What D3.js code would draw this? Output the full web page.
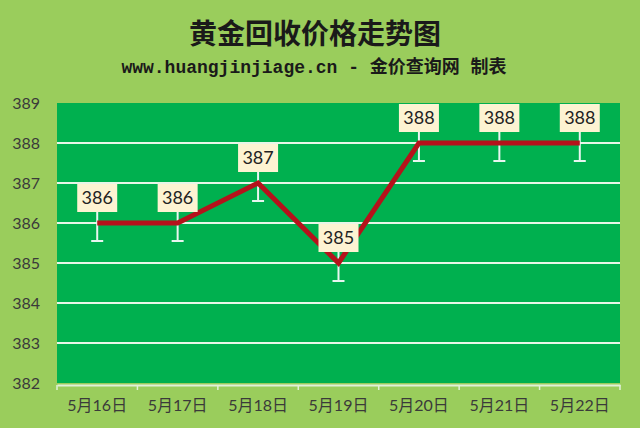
<!DOCTYPE html>
<html>
<head>
<meta charset="utf-8">
<script src="https://cdn.jsdelivr.net/npm/d3@7"></script>
<style>
  body { margin: 0; background: #9acd5c; }
  svg { display: block; }
  .title { font-family: "Noto Sans CJK SC"; font-weight: bold; font-size: 28px; fill: #1a1a1a; }
  .subtitle { font-family: "Liberation Mono", "Noto Sans CJK SC"; font-weight: bold; font-size: 18px; fill: #1a1a1a; }
  .axis text { font-family: "Lato", "Noto Sans CJK SC"; font-size: 16px; fill: #3a3a3a; }
  .grid line { stroke: #e8f6e8; stroke-width: 2px; }
  .valueLabel { font-family: "Lato", "Noto Sans"; font-size: 18px; fill: #222; }
</style>
</head>
<body>
<svg id="chart" width="640" height="428"></svg>
<script>
// chart data
var days = ["5月16日", "5月17日", "5月18日", "5月19日", "5月20日", "5月21日", "5月22日"];
var prices = [386, 386, 387, 385, 388, 388, 388];
var yTicks = [382, 383, 384, 385, 386, 387, 388, 389];
var errLen = 0.45;

var W = 640, H = 428;
var margin = {top: 103, right: 20, bottom: 45, left: 57};
var w = W - margin.left - margin.right,
    h = H - margin.top - margin.bottom;

var svg = d3.select("#chart");
svg.append("rect").attr("width", W).attr("height", H).attr("fill", "#9acd5c");

svg.append("text").attr("class", "title")
  .attr("x", 315).attr("y", 44).attr("text-anchor", "middle")
  .text("黄金回收价格走势图");
svg.append("text").attr("class", "subtitle")
  .attr("x", 314).attr("y", 73).attr("text-anchor", "middle")
  .text("www.huangjinjiage.cn - 金价查询网 制表");

var g = svg.append("g").attr("transform", "translate(" + margin.left + "," + margin.top + ")");

var x = d3.scaleBand().domain(days).range([0, w]);
var y = d3.scaleLinear().domain([382, 389]).range([h, 0]);

g.append("rect").attr("width", w).attr("height", h).attr("fill", "#00b04f");

// gridlines
g.append("g").attr("class", "grid")
  .selectAll("line").data(yTicks.slice(1, -1)).enter().append("line")
  .attr("x1", 0).attr("x2", w)
  .attr("y1", function(d) { return y(d); })
  .attr("y2", function(d) { return y(d); });

// y axis
var yAxis = g.append("g").attr("class", "axis")
  .call(d3.axisLeft(y).tickValues(yTicks).tickFormat(d3.format("d")).tickSize(0).tickPadding(17));
yAxis.select(".domain").remove();

// x axis with ticks at category boundaries
var xAxis = g.append("g").attr("class", "axis")
  .attr("transform", "translate(0," + (h + 2) + ")")
  .call(d3.axisBottom(x).tickSize(0).tickPadding(12));
xAxis.select(".domain").attr("stroke", "#e0f0d8").attr("stroke-width", 2);
xAxis.selectAll(".boundary").data(d3.range(days.length + 1)).enter().append("line")
  .attr("class", "boundary")
  .attr("x1", function(i) { return i * x.step(); })
  .attr("x2", function(i) { return i * x.step(); })
  .attr("y1", 0).attr("y2", 5)
  .attr("stroke", "#e0f0d8").attr("stroke-width", 1.5);
xAxis.selectAll("text").attr("dy", "0.85em");

var cx = function(i) { return x(days[i]) + x.bandwidth() / 2; };

// error bars
var err = g.append("g").attr("stroke", "#e8f6f0").attr("stroke-width", 2);
prices.forEach(function(p, i) {
  err.append("line").attr("x1", cx(i)).attr("x2", cx(i))
    .attr("y1", y(p + errLen)).attr("y2", y(p - errLen));
  err.append("line").attr("x1", cx(i) - 6).attr("x2", cx(i) + 6)
    .attr("y1", y(p - errLen)).attr("y2", y(p - errLen));
});

// price line
var line = d3.line()
  .x(function(d, i) { return cx(i); })
  .y(function(d) { return y(d); });
g.append("path").datum(prices).attr("d", line)
  .attr("fill", "none").attr("stroke", "#b5121b").attr("stroke-width", 5)
  .attr("stroke-linejoin", "miter");

// value labels
var labels = g.selectAll(".lab").data(prices).enter().append("g")
  .attr("class", "lab")
  .attr("transform", function(d, i) { return "translate(" + cx(i) + "," + (y(d) - 11) + ")"; });
labels.append("rect")
  .attr("x", -20).attr("y", -28).attr("width", 40).attr("height", 28)
  .attr("fill", "#fdf3d2");
labels.append("text").attr("class", "valueLabel")
  .attr("text-anchor", "middle").attr("y", -8)
  .text(function(d) { return d; });
</script>
</body>
</html>
